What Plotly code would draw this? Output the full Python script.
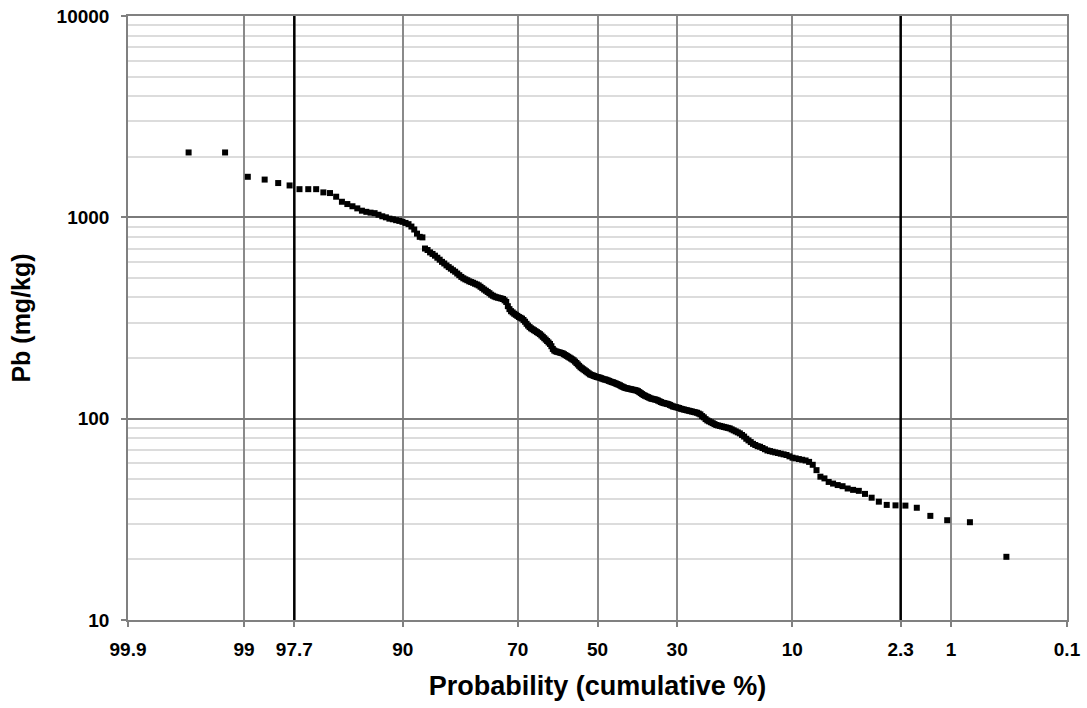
from statistics import NormalDist
import plotly.graph_objects as go

# Pb concentrations (mg/kg), sorted from highest to lowest (rank 1 = highest)
pb_values = [
    2100, 2100, 1590, 1540, 1480, 1440, 1380, 1380, 1380, 1330,
    1320, 1266, 1195, 1164, 1135, 1108, 1079, 1065, 1055, 1049,
    1030, 1012, 1000, 985, 978, 968, 960, 950, 938, 925,
    900, 870, 830, 800, 795, 700, 688, 670, 658, 645,
    630, 616, 601, 590, 577, 566, 556, 546, 537, 526,
    516, 506, 498, 492, 487, 481, 477, 473, 468, 464,
    459, 452, 445, 438, 432, 426, 420, 413, 408, 404,
    401, 399, 397, 395, 393, 387, 380, 362, 350, 342,
    337, 332, 328, 324, 320, 317, 314, 309, 303, 296,
    290, 285, 281, 278, 275, 272, 269, 266, 263, 259,
    255, 251, 247, 243, 239, 235, 229, 222, 218, 216,
    215, 214, 213, 212, 211, 209, 207, 205, 203, 201,
    199, 197, 195, 192, 189, 186, 183, 180, 178, 176,
    174, 172, 170, 168, 166, 165, 164, 163, 162, 161,
    160.5, 160, 159, 158, 157, 156.5, 156, 155, 154, 153,
    152, 151.5, 150.5, 149.5, 148.5, 147.5, 146.5, 145, 144, 143,
    142, 141.5, 141, 140.5, 140, 139.5, 139, 138.5, 138, 137,
    135.5, 134, 132.5, 131, 130, 129, 128, 127, 126, 125.5,
    125, 124.5, 124, 123, 122, 121, 120, 119.5, 119, 118.5,
    118, 117, 116, 115, 114.5, 114, 113.5, 113, 112, 111.5,
    111, 110.5, 110, 109.5, 109, 108.5, 108, 107.5, 107, 106,
    105, 103, 101.5, 99.5, 98, 97, 96, 95, 94, 93,
    92.5, 92, 91.5, 91, 90.5, 90, 89.5, 88.5, 87.5, 86.5,
    85.5, 84.5, 83, 81.5, 79.5, 78, 76.5, 75, 74, 73,
    72.5, 71.5, 70.5, 69.5, 69, 68.5, 68, 67.5, 67, 66.5,
    66, 65, 64, 63.5, 63, 62.5, 62, 61, 59, 55.5,
    51.5, 50.5, 48.5, 47.6, 46.8, 46.2, 45.0, 44.3, 43.8, 42.3,
    40.5, 38.7, 37.3, 37.1, 37.0, 36.1, 32.9, 31.3, 30.6, 20.6,
]

# probability-axis tick labels (cumulative %)
prob_ticks = ["99.9", "99", "97.7", "90", "70", "50", "30", "10", "2.3", "1", "0.1"]
reference_lines = ["97.7", "2.3"]
y_ticks = [10, 100, 1000, 10000]

nd = NormalDist()


def prob_to_x(p):
    # normal-probability scale, high cumulative % on the left
    return nd.inv_cdf(1 - p / 100.0)


n = len(pb_values)
cum_pct = [100.0 * (n + 1 - i) / (n + 1) for i in range(1, n + 1)]
xs = [prob_to_x(p) for p in cum_pct]

tickvals = [prob_to_x(float(t)) for t in prob_ticks]
xlim = prob_to_x(99.9)

minor_vals = [m * d for d in (10, 100, 1000) for m in range(2, 10)]

fig = go.Figure()
fig.add_trace(go.Scatter(
    x=xs, y=pb_values, mode="markers",
    marker=dict(symbol="square", size=6, color="black", line=dict(width=0)),
    showlegend=False, hoverinfo="skip",
))

for lbl in reference_lines:
    xv = prob_to_x(float(lbl))
    fig.add_shape(type="line", xref="x", yref="paper", x0=xv, x1=xv, y0=0, y1=1,
                  line=dict(color="black", width=2.5), layer="above")

font_tick = dict(family="Liberation Sans, Arial, sans-serif", size=19, color="black", weight="bold")
font_xtitle = dict(family="Liberation Sans, Arial, sans-serif", size=27, color="black", weight="bold")
font_ytitle = dict(family="Liberation Sans, Arial, sans-serif", size=25, color="black", weight="bold")

fig.update_layout(
    width=1087, height=708,
    margin=dict(l=128, r=20, t=16, b=88, autoexpand=False),
    paper_bgcolor="white", plot_bgcolor="white",
    xaxis=dict(
        range=[xlim, -xlim], tickmode="array", tickvals=tickvals, ticktext=prob_ticks,
        showgrid=True, gridcolor="#8a8a8a", gridwidth=1.5,
        zeroline=False, showline=True, mirror=True, linecolor="#808080", linewidth=1.5,
        ticks="outside", ticklen=5, tickcolor="#808080", tickwidth=1.5,
        tickfont=font_tick, ticklabelstandoff=6, automargin=False,
        ticklabeloverflow="allow",
        title=dict(text="Probability (cumulative %)", font=font_xtitle, standoff=18),
    ),
    yaxis=dict(
        type="log", range=[1, 4], tickmode="array", tickvals=y_ticks,
        ticktext=[str(v) for v in y_ticks],
        showgrid=True, gridcolor="#7a7a7a", gridwidth=1.5,
        zeroline=False, showline=True, mirror=True, linecolor="#808080", linewidth=1.5,
        ticks="outside", ticklen=5, tickcolor="#808080", tickwidth=1.5,
        tickfont=font_tick, ticklabelstandoff=8, automargin=False,
        ticklabeloverflow="allow",
        minor=dict(tickmode="array", tickvals=minor_vals, showgrid=True,
                   gridcolor="#dcdcdc", gridwidth=1.5, ticks=""),
        title=dict(text="Pb (mg/kg)", font=font_ytitle, standoff=19),
    ),
)

fig.write_html("out.html", config={"displayModeBar": False},
               post_script="document.body.style.margin='0px';")
